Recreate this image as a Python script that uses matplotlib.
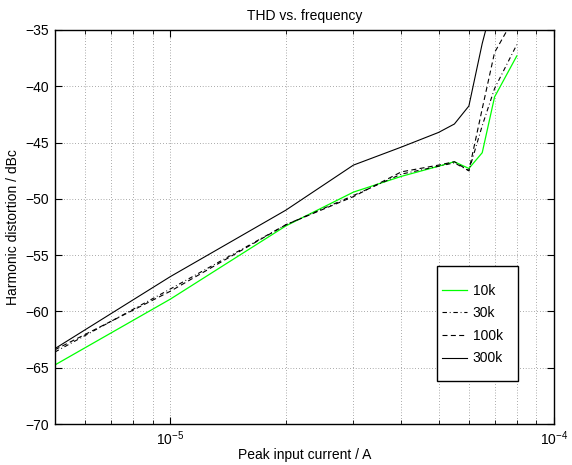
import numpy as np
import matplotlib
matplotlib.use('Agg')
import matplotlib.pyplot as plt
from matplotlib.patches import Rectangle
from matplotlib.ticker import LogLocator, NullFormatter, MultipleLocator

plt.rcParams['font.family'] = ['Liberation Sans', 'DejaVu Sans']
plt.rcParams['mathtext.fontset'] = 'custom'
plt.rcParams['mathtext.rm'] = 'Liberation Sans'
plt.rcParams['mathtext.it'] = 'Liberation Sans'

# peak input current (A)
current = [5e-6, 1e-5, 2e-5, 3e-5, 4e-5, 5e-5, 5.5e-5, 6e-5, 6.5e-5, 7e-5, 8e-5]

# harmonic distortion (dBc) per frequency
thd_10k = [-64.75, -58.9, -52.4, -49.4, -48.0, -47.1, -46.7, -47.3, -45.9, -40.95, -37.3]
thd_30k = [-63.6, -58.0, -52.3, -49.7, -47.8, -47.1, -46.8, -47.5, -43.5, -40.2, -36.3]
thd_100k = [-63.4, -58.2, -52.3, -49.8, -47.6, -47.0, -46.7, -47.5, -42.0, -37.0, -33.5]
thd_300k = [-63.3, -56.9, -51.0, -47.0, -45.4, -44.1, -43.35, -41.75, -36.2, -32.0, -29.0]

labels = ['10k', '30k', '100k', '300k']

fig = plt.figure(figsize=(5.72, 4.65), dpi=100)
ax = fig.add_axes([0.096, 0.088, 0.8725, 0.8475])

ax.plot(current, thd_10k, color='#00ff00', lw=0.9, label=labels[0])
ax.plot(current, thd_30k, color='black', lw=0.8, dashes=(4, 2.5, 0.8, 2.5), label=labels[1])
ax.plot(current, thd_100k, color='black', lw=0.8, dashes=(4.5, 3), label=labels[2])
ax.plot(current, thd_300k, color='black', lw=0.8, ls='-', label=labels[3])

ax.set_xscale('log')
ax.set_xlim(5e-6, 1e-4)
ax.set_ylim(-70, -35)
ax.yaxis.set_major_locator(MultipleLocator(5))
ax.xaxis.set_major_locator(LogLocator(base=10))
ax.xaxis.set_minor_locator(LogLocator(base=10, subs=np.arange(2, 10)))
ax.xaxis.set_minor_formatter(NullFormatter())

ax.grid(True, which='major', ls=(0, (0.8, 2.6)), color='0.45', lw=0.6)
ax.grid(True, which='minor', axis='x', ls=(0, (0.8, 2.6)), color='0.45', lw=0.6)

ax.tick_params(which='both', direction='in', top=True, right=True, labelsize=10, pad=4)
ax.tick_params(which='major', length=5)
ax.tick_params(which='minor', length=3)
for s in ax.spines.values():
    s.set_linewidth(1.0)

ax.set_title('THD vs. frequency', fontsize=10, pad=7)
ax.set_xlabel('Peak input current / A', fontsize=10, labelpad=0)
ax.set_ylabel('Harmonic distortion / dBc', fontsize=10)

# legend box drawn separately (MATLAB style padding)
ax.add_patch(Rectangle((0.7655, 0.109), 0.1625, 0.292, transform=ax.transAxes,
                       facecolor='white', edgecolor='black', lw=1.0, zorder=4))
leg = ax.legend(loc='center left', bbox_to_anchor=(0.7756, 0.2525), fontsize=10,
                frameon=False, borderpad=0, borderaxespad=0,
                handlelength=1.8, labelspacing=0.62, handletextpad=0.4)
leg.set_zorder(5)

fig.savefig('out.png', dpi=100)
